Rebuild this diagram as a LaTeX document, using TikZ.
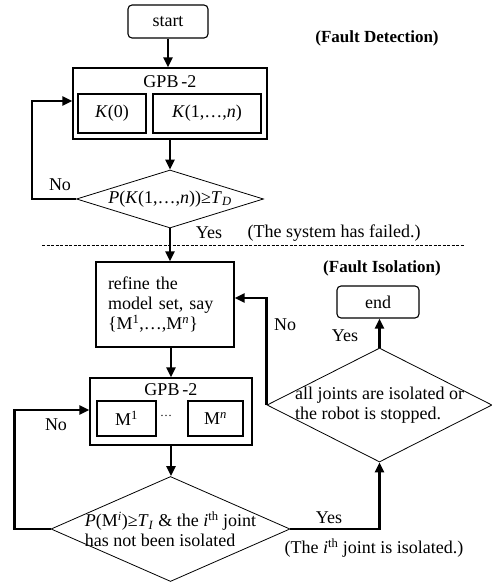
\documentclass[tikz,border=0pt]{standalone}
\usepackage{fontspec}
\setmainfont{Liberation Serif}
\usetikzlibrary{shapes.geometric,arrows.meta}

\begin{document}
\begin{tikzpicture}[x=1pt, y=-1pt,
	every node/.style={font=\fontsize{18}{20}\selectfont},
	heading/.style={font=\fontsize{17}{20}\selectfont\bfseries},
	box/.style={draw, line width=1.2pt, inner sep=0pt},
	inbox/.style={draw, line width=1.1pt, inner sep=0pt},
	term/.style={draw, line width=1.1pt, rounded corners=4pt, inner sep=0pt},
	decision/.style={draw, diamond, line width=0.8pt, inner sep=0pt},
	flow/.style={line width=2.4pt, -{Triangle[length=10pt,width=9pt]}}]
	\useasboundingbox (0,0) rectangle (492,583);

	% fault detection
	\node[term, minimum width=80pt, minimum height=33pt] (start) at (168,21.5) {start};
	\node[heading] (detecttitle) at (377,38) {(Fault Detection)};

	\node[box, minimum width=194pt, minimum height=71pt] (gpbA) at (170,103.5) {};
	\node (gpbAtitle) at (170,82) {GPB\,-2};
	\node[inbox, minimum width=68pt, minimum height=39pt] (kzero) at (112,113.5) {\textit{K}(0)};
	\node[inbox, minimum width=108pt, minimum height=39pt] (kall) at (207,113.5) {\textit{K}(1,\ldots,\textit{n})};

	\node[decision, minimum width=187pt, minimum height=58pt,
		label={center:\textit{P}(\textit{K}(1,\ldots,\textit{n}))≥\textit{T}\textsubscript{\textit{D}}}] (detect) at (170,199) {};

	\draw[flow] (start.south) -- (start.south |- gpbA.north);
	\draw[flow] (gpbA) -- (detect);
	\draw[flow] (detect.west) -- ++(-44,0) |- ([yshift=2.5pt]gpbA.west);
	\node (noA) at (60,185) {No};

	\node (yesA) at (209,233) {Yes};
	\node (failed) at (334,233) {(The system has failed.)};
	\draw[line width=0.8pt, dash pattern=on 3pt off 1.5pt] (42,245) -- (465,245);

	% fault isolation
	\node[heading] (isoltitle) at (382,268) {(Fault Isolation)};
	\node[box, minimum width=138pt, minimum height=85pt, text width=114pt, align=left] (refine) at (165,304.5)
		{refine the\\model set, say\\\{M\textsuperscript{1},\ldots,M\textsuperscript{\textit{n}}\}};

	\node[box, minimum width=162pt, minimum height=67pt] (gpbB) at (171,411.5) {};
	\node (gpbBtitle) at (171,390) {GPB\,-2};
	\node[inbox, minimum width=59pt, minimum height=35pt] (mfirst) at (126.5,418.5) {M\textsuperscript{1}};
	\node[inbox, minimum width=55pt, minimum height=35pt] (mlast) at (215.5,418.5) {M\textsuperscript{\textit{n}}};
	\node[font=\fontsize{12}{14}\selectfont] (mdots) at (166,416) {\ldots};

	\node[decision, minimum width=239pt, minimum height=105pt,
		label={[align=left]center:\textit{P}(M\textsuperscript{\textit{i}})≥\textit{T}\textsubscript{\textit{I}} \& the \textit{i}\textsuperscript{th} joint\\has not been isolated}] (isolate) at (170.5,529) {};

	\node[decision, minimum width=225pt, minimum height=114pt,
		label={[align=left]center:all joints are isolated or\\the robot is stopped.}] (stop) at (379.5,405) {};
	\node[term, minimum width=82pt, minimum height=32pt] (finish) at (378,302) {end};

	\draw[flow] (detect.south) -- (detect.south |- refine.north);
	\draw[flow] (gpbB.north |- refine.south) -- (gpbB.north);
	\draw[flow] (gpbB.south) -- (gpbB.south |- isolate.north);
	\draw[flow] (isolate.west) -- ++(-36,0) |- ([yshift=1.5pt]gpbB.west);
	\node (noB) at (56,425) {No};

	\draw[flow] (isolate.east) -| (stop.south);
	\node (yesC) at (329,518) {Yes};
	\node (isolated) at (374,548) {(The \textit{i}\textsuperscript{th} joint is isolated.)};

	\draw[flow] (stop.north) -- (stop.north |- finish.south);
	\node (yesB) at (345,336) {Yes};
	\draw[flow] (stop.west) |- ([yshift=6.5pt]refine.east);
	\node (noC) at (285,325) {No};
\end{tikzpicture}
\end{document}
